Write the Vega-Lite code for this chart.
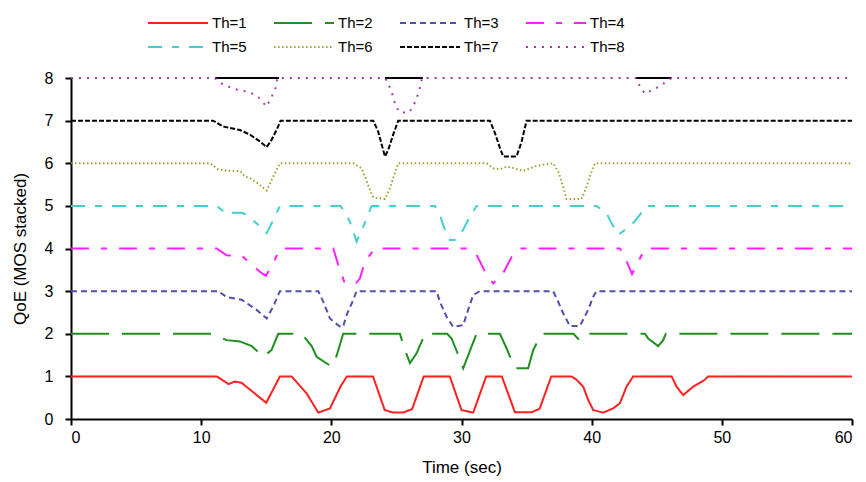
{
  "$schema": "https://vega.github.io/schema/vega-lite/v6.json",
  "width": 781,
  "height": 341,
  "autosize": {"type": "none"},
  "padding": {"left": 71, "top": 78, "right": 14, "bottom": 63},
  "background": "white",
  "config": {
    "font": "Liberation Sans, Arial, sans-serif",
    "view": {"stroke": null},
    "axis": {
      "grid": false,
      "domainColor": "black",
      "domainWidth": 2,
      "tickColor": "black",
      "tickWidth": 2,
      "tickSize": 6,
      "labelColor": "black",
      "labelFontSize": 16,
      "titleColor": "black",
      "titleFontSize": 17,
      "titleFontWeight": "normal"
    },
    "legend": {
      "orient": "none",
      "legendX": 76,
      "legendY": -66,
      "direction": "horizontal",
      "columns": 4,
      "symbolType": "M-1,0H5",
      "symbolSize": 400,
      "symbolStrokeWidth": 2,
      "symbolFillColor": "transparent",
      "labelFontSize": 15,
      "labelColor": "black",
      "labelOffset": 43,
      "columnPadding": 23,
      "rowPadding": 5,
      "padding": 0
    }
  },
  "datasets": {
    "topline": [
      {"seg": "a", "t": 11.06, "v": 8}, {"seg": "a", "t": 15.98, "v": 8},
      {"seg": "b", "t": 24.12, "v": 8}, {"seg": "b", "t": 27.03, "v": 8},
      {"seg": "c", "t": 43.39, "v": 8}, {"seg": "c", "t": 46.14, "v": 8}
    ],
    "qoe": [
      {"s": "Th=1", "t": 0, "v": 1}, {"s": "Th=1", "t": 11.2, "v": 1}, {"s": "Th=1", "t": 12.1, "v": 0.82}, {"s": "Th=1", "t": 12.6, "v": 0.88}, {"s": "Th=1", "t": 13.1, "v": 0.85}, {"s": "Th=1", "t": 15.0, "v": 0.38}, {"s": "Th=1", "t": 16.05, "v": 1}, {"s": "Th=1", "t": 16.95, "v": 1}, {"s": "Th=1", "t": 18.1, "v": 0.6}, {"s": "Th=1", "t": 19.0, "v": 0.15}, {"s": "Th=1", "t": 19.9, "v": 0.25}, {"s": "Th=1", "t": 20.7, "v": 0.76}, {"s": "Th=1", "t": 21.2, "v": 1}, {"s": "Th=1", "t": 23.2, "v": 1}, {"s": "Th=1", "t": 24.1, "v": 0.21}, {"s": "Th=1", "t": 24.75, "v": 0.15}, {"s": "Th=1", "t": 25.5, "v": 0.15}, {"s": "Th=1", "t": 26.2, "v": 0.23}, {"s": "Th=1", "t": 27.1, "v": 1}, {"s": "Th=1", "t": 29.1, "v": 1}, {"s": "Th=1", "t": 30.0, "v": 0.21}, {"s": "Th=1", "t": 30.9, "v": 0.15}, {"s": "Th=1", "t": 31.9, "v": 1}, {"s": "Th=1", "t": 33.1, "v": 1}, {"s": "Th=1", "t": 34.1, "v": 0.16}, {"s": "Th=1", "t": 35.4, "v": 0.16}, {"s": "Th=1", "t": 36.0, "v": 0.24}, {"s": "Th=1", "t": 36.9, "v": 1}, {"s": "Th=1", "t": 38.45, "v": 1}, {"s": "Th=1", "t": 38.84, "v": 0.92}, {"s": "Th=1", "t": 39.35, "v": 0.76}, {"s": "Th=1", "t": 39.73, "v": 0.45}, {"s": "Th=1", "t": 40.12, "v": 0.21}, {"s": "Th=1", "t": 40.89, "v": 0.15}, {"s": "Th=1", "t": 41.65, "v": 0.25}, {"s": "Th=1", "t": 42.17, "v": 0.37}, {"s": "Th=1", "t": 42.68, "v": 0.76}, {"s": "Th=1", "t": 43.19, "v": 1}, {"s": "Th=1", "t": 46.14, "v": 1}, {"s": "Th=1", "t": 46.52, "v": 0.76}, {"s": "Th=1", "t": 47.03, "v": 0.56}, {"s": "Th=1", "t": 47.8, "v": 0.76}, {"s": "Th=1", "t": 48.69, "v": 0.92}, {"s": "Th=1", "t": 48.95, "v": 1}, {"s": "Th=1", "t": 60, "v": 1},
      {"s": "Th=2", "t": 0, "v": 2}, {"s": "Th=2", "t": 10.8, "v": 2}, {"s": "Th=2", "t": 11.96, "v": 1.85}, {"s": "Th=2", "t": 12.98, "v": 1.82}, {"s": "Th=2", "t": 13.88, "v": 1.71}, {"s": "Th=2", "t": 14.77, "v": 1.46}, {"s": "Th=2", "t": 15.41, "v": 1.62}, {"s": "Th=2", "t": 15.92, "v": 2}, {"s": "Th=2", "t": 17.72, "v": 2}, {"s": "Th=2", "t": 18.49, "v": 1.71}, {"s": "Th=2", "t": 18.87, "v": 1.46}, {"s": "Th=2", "t": 20.02, "v": 1.23}, {"s": "Th=2", "t": 20.4, "v": 1.48}, {"s": "Th=2", "t": 20.91, "v": 2}, {"s": "Th=2", "t": 25.27, "v": 2}, {"s": "Th=2", "t": 25.65, "v": 1.62}, {"s": "Th=2", "t": 26.04, "v": 1.31}, {"s": "Th=2", "t": 26.55, "v": 1.54}, {"s": "Th=2", "t": 27.19, "v": 2}, {"s": "Th=2", "t": 28.9, "v": 2}, {"s": "Th=2", "t": 29.24, "v": 1.89}, {"s": "Th=2", "t": 30.0, "v": 1.31}, {"s": "Th=2", "t": 30.13, "v": 1.19}, {"s": "Th=2", "t": 30.77, "v": 1.7}, {"s": "Th=2", "t": 31.16, "v": 2}, {"s": "Th=2", "t": 32.95, "v": 2}, {"s": "Th=2", "t": 33.46, "v": 1.66}, {"s": "Th=2", "t": 34.1, "v": 1.19}, {"s": "Th=2", "t": 35.12, "v": 1.19}, {"s": "Th=2", "t": 35.51, "v": 1.62}, {"s": "Th=2", "t": 36.15, "v": 2}, {"s": "Th=2", "t": 38.6, "v": 2}, {"s": "Th=2", "t": 39.09, "v": 1.84}, {"s": "Th=2", "t": 39.86, "v": 2}, {"s": "Th=2", "t": 44.09, "v": 2}, {"s": "Th=2", "t": 44.34, "v": 1.89}, {"s": "Th=2", "t": 45.11, "v": 1.71}, {"s": "Th=2", "t": 45.49, "v": 1.85}, {"s": "Th=2", "t": 45.7, "v": 2}, {"s": "Th=2", "t": 60, "v": 2},
      {"s": "Th=3", "t": 0, "v": 3}, {"s": "Th=3", "t": 11.31, "v": 3}, {"s": "Th=3", "t": 11.96, "v": 2.86}, {"s": "Th=3", "t": 13.11, "v": 2.8}, {"s": "Th=3", "t": 14.26, "v": 2.56}, {"s": "Th=3", "t": 15.03, "v": 2.36}, {"s": "Th=3", "t": 15.54, "v": 2.64}, {"s": "Th=3", "t": 16.05, "v": 3}, {"s": "Th=3", "t": 19.0, "v": 3}, {"s": "Th=3", "t": 19.38, "v": 2.75}, {"s": "Th=3", "t": 19.89, "v": 2.36}, {"s": "Th=3", "t": 20.6, "v": 2.18}, {"s": "Th=3", "t": 20.9, "v": 2.16}, {"s": "Th=3", "t": 21.17, "v": 2.44}, {"s": "Th=3", "t": 21.68, "v": 2.79}, {"s": "Th=3", "t": 21.94, "v": 3}, {"s": "Th=3", "t": 28.09, "v": 3}, {"s": "Th=3", "t": 28.34, "v": 2.75}, {"s": "Th=3", "t": 28.85, "v": 2.4}, {"s": "Th=3", "t": 29.36, "v": 2.16}, {"s": "Th=3", "t": 30.13, "v": 2.2}, {"s": "Th=3", "t": 30.51, "v": 2.56}, {"s": "Th=3", "t": 30.9, "v": 2.91}, {"s": "Th=3", "t": 31.41, "v": 3}, {"s": "Th=3", "t": 37.04, "v": 3}, {"s": "Th=3", "t": 37.43, "v": 2.75}, {"s": "Th=3", "t": 37.81, "v": 2.48}, {"s": "Th=3", "t": 38.33, "v": 2.18}, {"s": "Th=3", "t": 39.09, "v": 2.18}, {"s": "Th=3", "t": 39.73, "v": 2.56}, {"s": "Th=3", "t": 40.12, "v": 2.87}, {"s": "Th=3", "t": 40.37, "v": 3}, {"s": "Th=3", "t": 60, "v": 3},
      {"s": "Th=4", "t": 0, "v": 4}, {"s": "Th=4", "t": 11.19, "v": 4}, {"s": "Th=4", "t": 11.96, "v": 3.84}, {"s": "Th=4", "t": 13.11, "v": 3.83}, {"s": "Th=4", "t": 14.65, "v": 3.42}, {"s": "Th=4", "t": 14.98, "v": 3.36}, {"s": "Th=4", "t": 15.54, "v": 3.66}, {"s": "Th=4", "t": 16.05, "v": 4}, {"s": "Th=4", "t": 20.15, "v": 4}, {"s": "Th=4", "t": 20.53, "v": 3.62}, {"s": "Th=4", "t": 21.04, "v": 3.18}, {"s": "Th=4", "t": 21.94, "v": 3.2}, {"s": "Th=4", "t": 22.2, "v": 3.3}, {"s": "Th=4", "t": 22.58, "v": 3.69}, {"s": "Th=4", "t": 23.35, "v": 4}, {"s": "Th=4", "t": 30.39, "v": 4}, {"s": "Th=4", "t": 31.16, "v": 3.85}, {"s": "Th=4", "t": 31.8, "v": 3.46}, {"s": "Th=4", "t": 32.44, "v": 3.18}, {"s": "Th=4", "t": 33.2, "v": 3.42}, {"s": "Th=4", "t": 33.85, "v": 3.8}, {"s": "Th=4", "t": 34.49, "v": 4}, {"s": "Th=4", "t": 42.17, "v": 4}, {"s": "Th=4", "t": 42.55, "v": 3.8}, {"s": "Th=4", "t": 43.1, "v": 3.4}, {"s": "Th=4", "t": 43.83, "v": 3.84}, {"s": "Th=4", "t": 44.15, "v": 4}, {"s": "Th=4", "t": 60, "v": 4},
      {"s": "Th=5", "t": 0, "v": 5}, {"s": "Th=5", "t": 11.19, "v": 5}, {"s": "Th=5", "t": 11.96, "v": 4.81}, {"s": "Th=5", "t": 12.47, "v": 4.84}, {"s": "Th=5", "t": 13.11, "v": 4.84}, {"s": "Th=5", "t": 13.36, "v": 4.81}, {"s": "Th=5", "t": 14.26, "v": 4.59}, {"s": "Th=5", "t": 15.03, "v": 4.36}, {"s": "Th=5", "t": 15.41, "v": 4.59}, {"s": "Th=5", "t": 16.05, "v": 5}, {"s": "Th=5", "t": 20.7, "v": 5}, {"s": "Th=5", "t": 20.91, "v": 4.91}, {"s": "Th=5", "t": 21.43, "v": 4.63}, {"s": "Th=5", "t": 21.94, "v": 4.16}, {"s": "Th=5", "t": 22.45, "v": 4.51}, {"s": "Th=5", "t": 23.09, "v": 5}, {"s": "Th=5", "t": 27.96, "v": 5}, {"s": "Th=5", "t": 28.34, "v": 4.79}, {"s": "Th=5", "t": 28.72, "v": 4.44}, {"s": "Th=5", "t": 29.11, "v": 4.2}, {"s": "Th=5", "t": 29.49, "v": 4.2}, {"s": "Th=5", "t": 30.13, "v": 4.44}, {"s": "Th=5", "t": 30.64, "v": 4.75}, {"s": "Th=5", "t": 31.16, "v": 5}, {"s": "Th=5", "t": 40.37, "v": 5}, {"s": "Th=5", "t": 41.14, "v": 4.83}, {"s": "Th=5", "t": 41.53, "v": 4.59}, {"s": "Th=5", "t": 42.04, "v": 4.32}, {"s": "Th=5", "t": 43.06, "v": 4.55}, {"s": "Th=5", "t": 43.7, "v": 4.79}, {"s": "Th=5", "t": 44.22, "v": 5}, {"s": "Th=5", "t": 60, "v": 5},
      {"s": "Th=6", "t": 0, "v": 6}, {"s": "Th=6", "t": 10.68, "v": 6}, {"s": "Th=6", "t": 11.31, "v": 5.85}, {"s": "Th=6", "t": 12.21, "v": 5.82}, {"s": "Th=6", "t": 12.98, "v": 5.82}, {"s": "Th=6", "t": 13.36, "v": 5.69}, {"s": "Th=6", "t": 13.75, "v": 5.65}, {"s": "Th=6", "t": 14.26, "v": 5.55}, {"s": "Th=6", "t": 15.03, "v": 5.36}, {"s": "Th=6", "t": 15.54, "v": 5.69}, {"s": "Th=6", "t": 16.05, "v": 6}, {"s": "Th=6", "t": 21.68, "v": 6}, {"s": "Th=6", "t": 22.33, "v": 5.88}, {"s": "Th=6", "t": 22.58, "v": 5.69}, {"s": "Th=6", "t": 22.96, "v": 5.38}, {"s": "Th=6", "t": 23.22, "v": 5.2}, {"s": "Th=6", "t": 24.12, "v": 5.16}, {"s": "Th=6", "t": 24.5, "v": 5.41}, {"s": "Th=6", "t": 24.88, "v": 5.77}, {"s": "Th=6", "t": 25.14, "v": 6}, {"s": "Th=6", "t": 31.93, "v": 6}, {"s": "Th=6", "t": 32.44, "v": 5.88}, {"s": "Th=6", "t": 32.95, "v": 5.86}, {"s": "Th=6", "t": 33.46, "v": 5.92}, {"s": "Th=6", "t": 34.1, "v": 5.88}, {"s": "Th=6", "t": 34.74, "v": 5.82}, {"s": "Th=6", "t": 35.25, "v": 5.88}, {"s": "Th=6", "t": 35.77, "v": 5.94}, {"s": "Th=6", "t": 37.04, "v": 6}, {"s": "Th=6", "t": 37.43, "v": 5.81}, {"s": "Th=6", "t": 37.81, "v": 5.45}, {"s": "Th=6", "t": 38.07, "v": 5.16}, {"s": "Th=6", "t": 39.22, "v": 5.16}, {"s": "Th=6", "t": 39.61, "v": 5.45}, {"s": "Th=6", "t": 39.99, "v": 5.81}, {"s": "Th=6", "t": 40.25, "v": 6}, {"s": "Th=6", "t": 60, "v": 6},
      {"s": "Th=7", "t": 0, "v": 7}, {"s": "Th=7", "t": 10.93, "v": 7}, {"s": "Th=7", "t": 11.7, "v": 6.86}, {"s": "Th=7", "t": 12.34, "v": 6.82}, {"s": "Th=7", "t": 12.98, "v": 6.78}, {"s": "Th=7", "t": 13.75, "v": 6.67}, {"s": "Th=7", "t": 14.52, "v": 6.51}, {"s": "Th=7", "t": 15.03, "v": 6.38}, {"s": "Th=7", "t": 15.41, "v": 6.55}, {"s": "Th=7", "t": 15.85, "v": 6.82}, {"s": "Th=7", "t": 16.1, "v": 7}, {"s": "Th=7", "t": 23.22, "v": 7}, {"s": "Th=7", "t": 23.6, "v": 6.74}, {"s": "Th=7", "t": 24.12, "v": 6.16}, {"s": "Th=7", "t": 24.37, "v": 6.31}, {"s": "Th=7", "t": 24.75, "v": 6.67}, {"s": "Th=7", "t": 25.14, "v": 7}, {"s": "Th=7", "t": 32.18, "v": 7}, {"s": "Th=7", "t": 32.57, "v": 6.71}, {"s": "Th=7", "t": 32.95, "v": 6.36}, {"s": "Th=7", "t": 33.2, "v": 6.16}, {"s": "Th=7", "t": 34.23, "v": 6.16}, {"s": "Th=7", "t": 34.62, "v": 6.51}, {"s": "Th=7", "t": 35.0, "v": 7}, {"s": "Th=7", "t": 60, "v": 7},
      {"s": "Th=8", "t": 0, "v": 8}, {"s": "Th=8", "t": 11.06, "v": 8}, {"s": "Th=8", "t": 11.44, "v": 7.89}, {"s": "Th=8", "t": 11.96, "v": 7.81}, {"s": "Th=8", "t": 12.73, "v": 7.73}, {"s": "Th=8", "t": 13.36, "v": 7.69}, {"s": "Th=8", "t": 13.88, "v": 7.64}, {"s": "Th=8", "t": 14.39, "v": 7.55}, {"s": "Th=8", "t": 15.03, "v": 7.33}, {"s": "Th=8", "t": 15.28, "v": 7.48}, {"s": "Th=8", "t": 15.54, "v": 7.64}, {"s": "Th=8", "t": 15.75, "v": 7.79}, {"s": "Th=8", "t": 15.85, "v": 8}, {"s": "Th=8", "t": 24.12, "v": 8}, {"s": "Th=8", "t": 24.29, "v": 7.92}, {"s": "Th=8", "t": 24.63, "v": 7.68}, {"s": "Th=8", "t": 24.96, "v": 7.33}, {"s": "Th=8", "t": 25.27, "v": 7.19}, {"s": "Th=8", "t": 25.96, "v": 7.19}, {"s": "Th=8", "t": 26.29, "v": 7.33}, {"s": "Th=8", "t": 26.63, "v": 7.6}, {"s": "Th=8", "t": 26.88, "v": 7.84}, {"s": "Th=8", "t": 26.96, "v": 8}, {"s": "Th=8", "t": 43.39, "v": 8}, {"s": "Th=8", "t": 43.7, "v": 7.81}, {"s": "Th=8", "t": 44.09, "v": 7.63}, {"s": "Th=8", "t": 44.6, "v": 7.71}, {"s": "Th=8", "t": 45.24, "v": 7.81}, {"s": "Th=8", "t": 46.14, "v": 8}, {"s": "Th=8", "t": 60, "v": 8}
    ]
  },
  "layer": [
    {
      "data": {"name": "topline"},
      "mark": {"type": "line", "color": "black", "strokeWidth": 2},
      "encoding": {
        "x": {"field": "t", "type": "quantitative", "scale": {"domain": [0, 60], "nice": false}},
        "y": {"field": "v", "type": "quantitative", "scale": {"domain": [0, 8], "nice": false}},
        "detail": {"field": "seg"}
      }
    },
    {
      "data": {"name": "qoe"},
      "mark": {"type": "line", "strokeWidth": 2},
      "encoding": {
        "x": {
          "field": "t", "type": "quantitative",
          "scale": {"domain": [0, 60], "nice": false},
          "axis": {"title": "Time (sec)", "values": [0, 10, 20, 30, 40, 50, 60], "labelPadding": 4, "titlePadding": 14}
        },
        "y": {
          "field": "v", "type": "quantitative",
          "scale": {"domain": [0, 8], "nice": false},
          "axis": {"title": "QoE (MOS stacked)", "values": [0, 1, 2, 3, 4, 5, 6, 7, 8], "labelPadding": 12, "titlePadding": 15}
        },
        "color": {
          "field": "s", "type": "nominal",
          "scale": {
            "domain": ["Th=1", "Th=2", "Th=3", "Th=4", "Th=5", "Th=6", "Th=7", "Th=8"],
            "range": ["#ff2020", "#1f8f1f", "#5050b0", "#ff20ff", "#40d0d0", "#a0a030", "#000000", "#a040a0"]
          },
          "legend": {"title": null}
        },
        "strokeDash": {
          "field": "s", "type": "nominal",
          "scale": {
            "domain": ["Th=1", "Th=2", "Th=3", "Th=4", "Th=5", "Th=6", "Th=7", "Th=8"],
            "range": [[1, 0], [38, 13], [6, 4], [18, 12, 6, 12], [14, 10, 7, 10], [1.5, 2.5], [5, 2], [2, 6]]
          },
          "legend": {"title": null}
        }
      }
    }
  ]
}
